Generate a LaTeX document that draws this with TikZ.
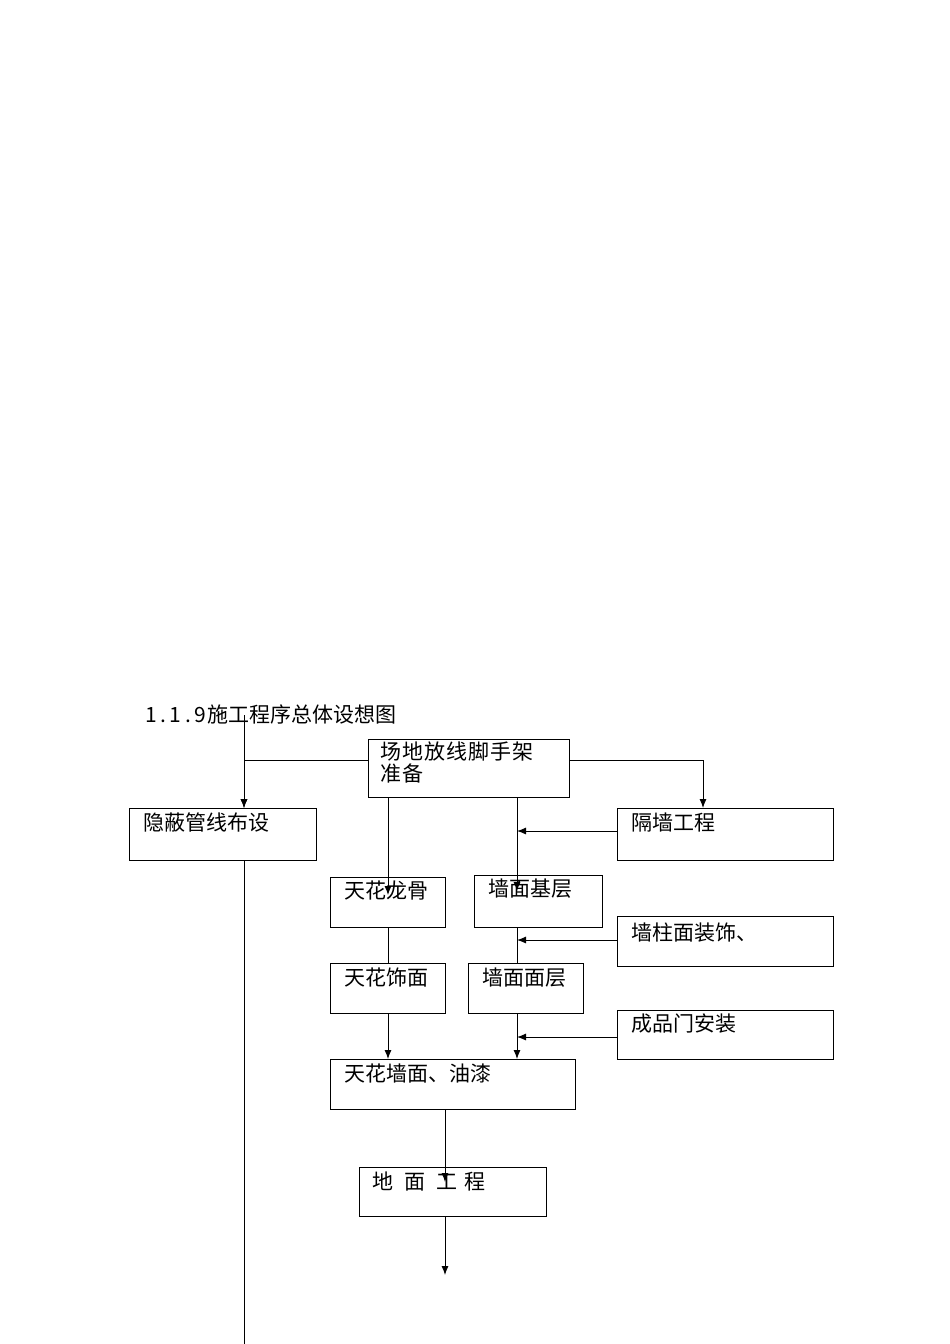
\documentclass[tikz,border=0pt]{standalone}
\usepackage{fontspec}
\setmainfont{Noto Sans CJK SC}
\usetikzlibrary{arrows.meta}
\begin{document}
\begin{tikzpicture}[x=1pt,y=-1pt,
  bx/.style={draw,line width=0.9pt,inner sep=0pt},
  lbl/.style={anchor=north west,font=\fontsize{21}{23}\selectfont,inner sep=0pt},
  ln/.style={line width=0.9pt},
  ar/.style={line width=0.9pt,-{Latex[length=9pt,width=7pt]}}]
\useasboundingbox (0,0) rectangle (950,1344);
\node[lbl,anchor=west] (title) at (145,714) {1\hspace{4pt}.\hspace{3pt}1\hspace{4pt}.\hspace{3pt}9\hspace{2pt}施工程序总体设想图};
% boxes
\draw[bx] (368,739) rectangle (569,797); \node[lbl,align=left,font=\fontsize{21}{22}\selectfont] (ta) at (380,742) {场\hspace{1pt}地\hspace{1pt}放\hspace{1pt}线\hspace{1pt}脚\hspace{1pt}手\hspace{1pt}架\\准\hspace{1pt}备};
\draw[bx] (129,808) rectangle (316,860); \node[lbl] (tb) at (143,813) {隐蔽管线布设};
\draw[bx] (617,808) rectangle (833,860); \node[lbl] (tc) at (631,813) {隔墙工程};
\draw[bx] (330,877) rectangle (445,927); \node[lbl] (td) at (344,881) {天花龙骨};
\draw[bx] (474,875) rectangle (602,927); \node[lbl] (te) at (488,879) {墙面基层};
\draw[bx] (617,916) rectangle (833,966); \node[lbl] (tf) at (631,923) {墙柱面装饰、};
\draw[bx] (330,963) rectangle (445,1013); \node[lbl] (tg) at (344,968) {天花饰面};
\draw[bx] (468,963) rectangle (583,1013); \node[lbl] (th) at (482,968) {墙面面层};
\draw[bx] (617,1010) rectangle (833,1059); \node[lbl] (ti) at (631,1014) {成品门安装};
\draw[bx] (330,1059) rectangle (575,1109); \node[lbl] (tj) at (344,1064) {天花墙面、油漆};
\draw[bx] (359,1167) rectangle (546,1216); \node[lbl] (tk) at (372,1172) {地\hspace{11pt}面\hspace{11pt}工\hspace{7pt}程};
% connectors
\coordinate (p1) at (244,715);
\draw[ar] (p1) -- (244,808);
\draw[ar] (368,760) -- (244,760) -- (244,808);
\draw[ln] (244,860) -- (244,1344);
\draw[ar] (569,760) -- (703,760) -- (703,808);
\draw[ar] (388,797) -- (388,895);
\draw[ar] (517,797) -- (517,891);
\draw[ar] (617,831) -- (517,831);
\draw[ln] (388,927) -- (388,963);
\draw[ln] (517,927) -- (517,963);
\draw[ar] (617,940) -- (517,940);
\draw[ar] (388,1013) -- (388,1059);
\draw[ar] (517,1013) -- (517,1059);
\draw[ar] (617,1037) -- (517,1037);
\draw[ar] (445,1109) -- (445,1182);
\draw[ar] (445,1216) -- (445,1275);
\end{tikzpicture}
\end{document}
